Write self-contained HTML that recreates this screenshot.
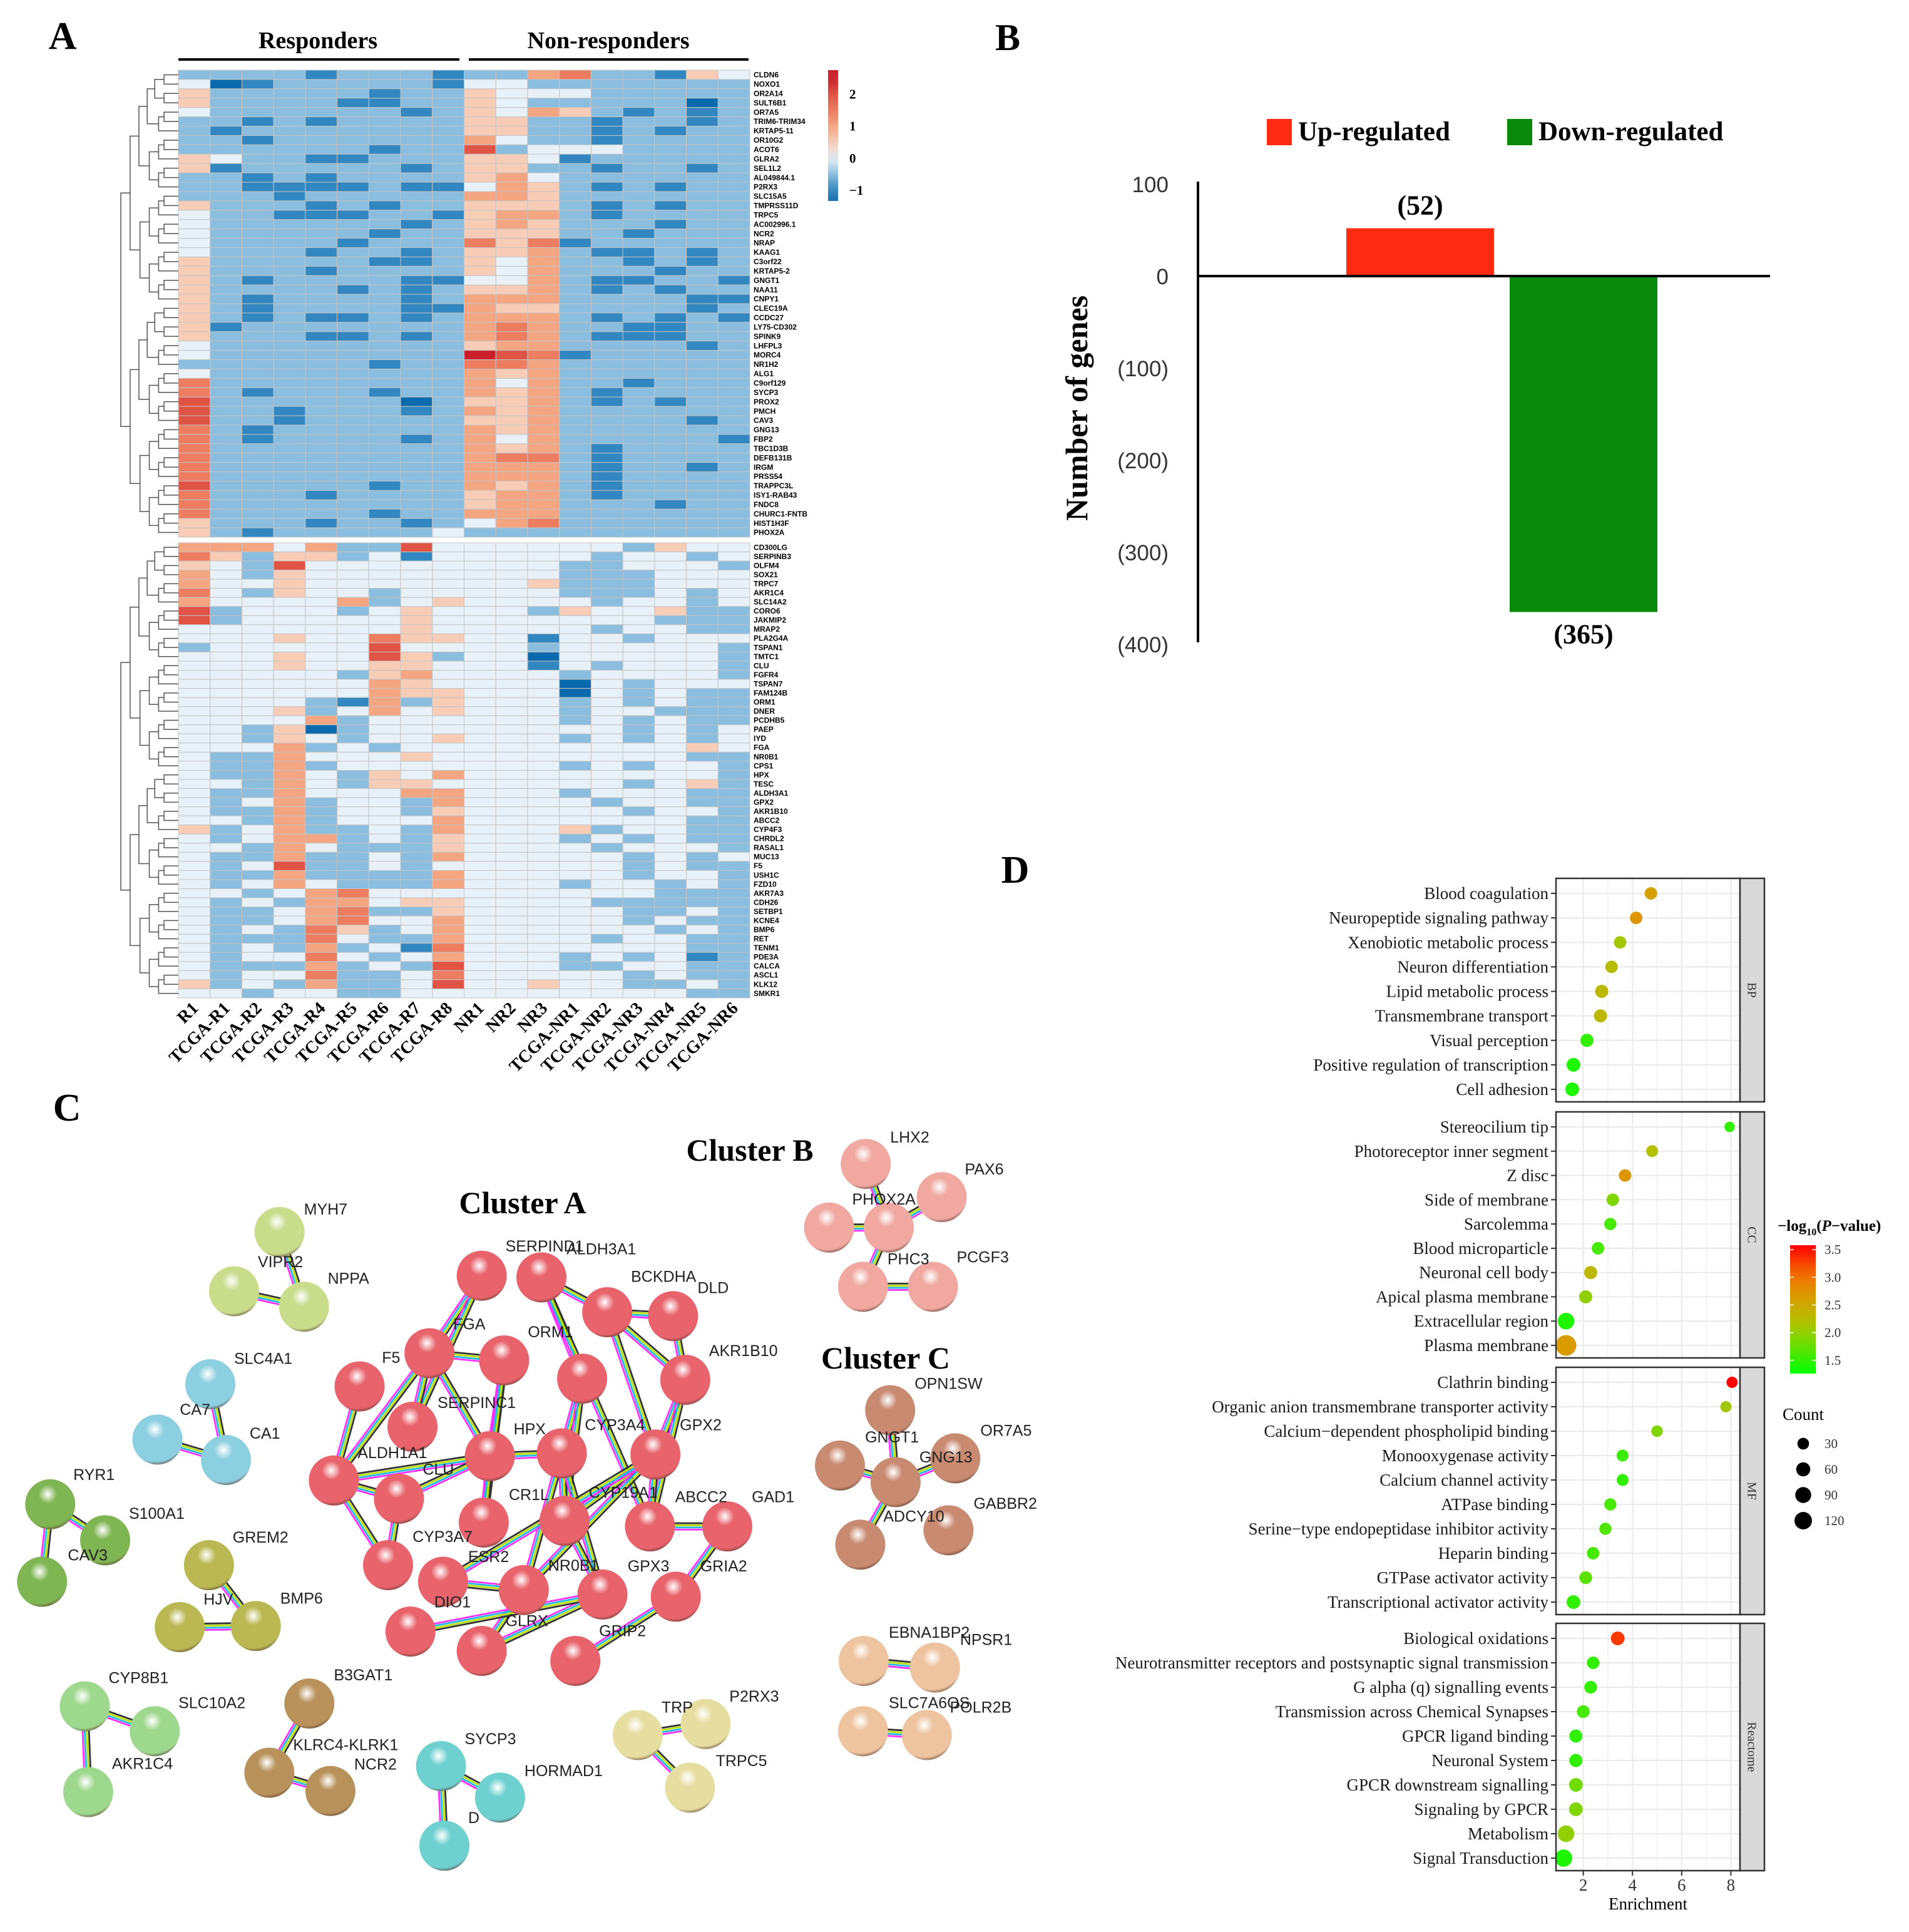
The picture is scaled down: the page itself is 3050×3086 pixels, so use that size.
<!DOCTYPE html>
<html><head><meta charset="utf-8"><style>
html,body{margin:0;padding:0;background:#fff;}
svg{display:block;}
</style></head><body>
<svg id="fig" width="3050" height="3086" viewBox="0 0 3050 3086" xmlns="http://www.w3.org/2000/svg">
<defs id="defs"></defs>
<g id="panelA"></g>
<g id="panelB"></g>
<g id="panelC"></g>
<g id="panelD"></g>
</svg>
<script>
// ================= DATA =================
// Heatmap
const hmColumns=["R1","TCGA-R1","TCGA-R2","TCGA-R3","TCGA-R4","TCGA-R5","TCGA-R6","TCGA-R7","TCGA-R8","NR1","NR2","NR3","TCGA-NR1","TCGA-NR2","TCGA-NR3","TCGA-NR4","TCGA-NR5","TCGA-NR6"];
const hmGenesTop=["CLDN6","NOXO1","OR2A14","SULT6B1","OR7A5","TRIM6-TRIM34","KRTAP5-11","OR10G2","ACOT6","GLRA2","SEL1L2","AL049844.1","P2RX3","SLC15A5","TMPRSS11D","TRPC5","AC002996.1","NCR2","NRAP","KAAG1","C3orf22","KRTAP5-2","GNGT1","NAA11","CNPY1","CLEC19A","CCDC27","LY75-CD302","SPINK9","LHFPL3","MORC4","NR1H2","ALG1","C9orf129","SYCP3","PROX2","PMCH","CAV3","GNG13","FBP2","TBC1D3B","DEFB131B","IRGM","PRSS54","TRAPPC3L","ISY1-RAB43","FNDC8","CHURC1-FNTB","HIST1H3F","PHOX2A"];
// level code per cell: value = -1.5 + 0.5*digit
const hmLevelsTop=["222212221225622143","301222221332222222","422222122433322222","422221122432222202","322222212435421212","221212222442212212","212222222442212122","221222222532212222","222222122723332222","432211222443122222","412222212442212212","221212222453222222","221111211354212122","222122222554222222","422212122444212122","322111221455212222","322222212454222122","322222122444221222","322221222646122222","322212212445211212","422222112435221212","422212222435222122","421222211335211221","422221212445212122","421222212555222211","421222211544222212","421211212555212121","412222222565221122","422211212565211122","322222222455222212","322222222876122222","222222122665222222","322222222545222222","622222222535221222","621222122545212222","722222202445212122","722122212545222222","722122222445222212","621222222545222222","621222212535222221","622222222545212222","622222222566212222","622222222555212212","622222222555212222","722222122545212222","622212222455212222","622222222455222122","622222122555222222","422212212356222222","421222223222222222"];
const hmGenesBottom=["CD300LG","SERPINB3","OLFM4","SOX21","TRPC7","AKR1C4","SLC14A2","CORO6","JAKMIP2","MRAP2","PLA2G4A","TSPAN1","TMTC1","CLU","FGFR4","TSPAN7","FAM124B","ORM1","DNER","PCDHB5","PAEP","IYD","FGA","NR0B1","CPS1","HPX","TESC","ALDH3A1","GPX2","AKR1B10","ABCC2","CYP4F3","CHRDL2","RASAL1","MUC13","F5","USH1C","FZD10","AKR7A3","CDH26","SETBP1","KCNE4","BMP6","RET","TENM1","PDE3A","CALCA","ASCL1","KLK12","SMKR1"];
const hmLevelsBottom=["555352273333332433","642442313333323323","432733333333223332","532433333333222333","533433333334222333","632433233333222323","533335234333323323","723332343332433422","723333343333333222","333333343333323322","333433644331332333","233333733332333332","333433742330333332","333433443331323332","333332453333233332","333333543333032333","333333544333032322","333321524333232322","333423534333233222","333352333333232322","332402333333332323","332432334333232323","333523233333333343","322533343333333322","322523333333232332","322532435333333332","332532443333332342","322533355333233322","323523325333323322","322523324333332332","332523335333333322","423522325333423322","323552324333232322","332532224333323332","322522325333332323","323722323333332322","322522225333332332","323532225333233232","332356333333333222","323255344333322222","322356224333332232","322356335333332322","323264235333333232","322263225333323322","323252316333333322","323363235333232312","322252327333223322","323362236333332322","423252237334332232","332332233333333322"];
const hmBarTicks=[2,1,0,-1];

// Bar chart
const barCategories=["Up-regulated","Down-regulated"];
const barValues=[52,-365];
const barLabels=["(52)","(365)"];
const barTickValues=[100,0,-100,-200,-300,-400];
const barTickLabels=["100","0","(100)","(200)","(300)","(400)"];

// Dot plot
const dotPanels=["BP","CC","MF","Reactome"];
const dotTermsBP=["Blood coagulation","Neuropeptide signaling pathway","Xenobiotic metabolic process","Neuron differentiation","Lipid metabolic process","Transmembrane transport","Visual perception","Positive regulation of transcription","Cell adhesion"];
const dotEnrichBP=[4.75,4.15,3.5,3.15,2.75,2.7,2.15,1.6,1.55];
const dotPvalBP=[2.6,2.7,2.1,2.25,2.3,2.3,1.5,1.4,1.4];
const dotCountBP=[20,20,20,20,25,25,25,30,30];
const dotTermsCC=["Stereocilium tip","Photoreceptor inner segment","Z disc","Side of membrane","Sarcolemma","Blood microparticle","Neuronal cell body","Apical plasma membrane","Extracellular region","Plasma membrane"];
const dotEnrichCC=[7.95,4.8,3.7,3.2,3.1,2.6,2.3,2.1,1.3,1.3];
const dotPvalCC=[1.5,2.2,2.7,1.9,1.6,1.6,2.3,2.0,1.4,2.65];
const dotCountCC=[8,16,20,20,18,20,25,25,60,120];
const dotTermsMF=["Clathrin binding","Organic anion transmembrane transporter activity","Calcium\u2212dependent phospholipid binding","Monooxygenase activity","Calcium channel activity","ATPase binding","Serine\u2212type endopeptidase inhibitor activity","Heparin binding","GTPase activator activity","Transcriptional activator activity"];
const dotEnrichMF=[8.05,7.8,5.0,3.6,3.6,3.1,2.9,2.4,2.1,1.6];
const dotPvalMF=[3.6,2.1,1.9,1.55,1.5,1.6,1.65,1.6,1.7,1.5];
const dotCountMF=[12,12,14,16,16,18,18,20,22,30];
const dotTermsRe=["Biological oxidations","Neurotransmitter receptors and postsynaptic signal transmission","G alpha (q) signalling events","Transmission across Chemical Synapses","GPCR ligand binding","Neuronal System","GPCR downstream signalling","Signaling by GPCR","Metabolism","Signal Transduction"];
const dotEnrichRe=[3.4,2.4,2.3,2.0,1.7,1.7,1.7,1.7,1.3,1.2];
const dotPvalRe=[3.3,1.5,1.5,1.6,1.5,1.5,1.8,1.9,2.0,1.4];
const dotCountRe=[30,20,22,22,25,25,30,30,60,70];
const dotXTicks=[2,4,6,8];
const dotPTicks=[3.5,3.0,2.5,2.0,1.5];
const dotCountTicks=[30,60,90,120];

// ================= HELPERS =================
const NS="http://www.w3.org/2000/svg";
function mk(parent,tag,attrs,text){const e=document.createElementNS(NS,tag);for(const k in attrs)e.setAttribute(k,attrs[k]);if(text!==undefined)e.textContent=text;parent.appendChild(e);return e;}
function hex(c){return [parseInt(c.slice(1,3),16),parseInt(c.slice(3,5),16),parseInt(c.slice(5,7),16)];}
function interp(stops,v){if(v<=stops[0][0])return stops[0][1];for(let i=1;i<stops.length;i++){if(v<=stops[i][0]){const t=(v-stops[i-1][0])/(stops[i][0]-stops[i-1][0]);const a=hex(stops[i-1][1]),b=hex(stops[i][1]);return "rgb("+a.map((x,j)=>Math.round(x+(b[j]-x)*t)).join(",")+")";}}return stops[stops.length-1][1];}
const SERIF='"Liberation Serif", serif';
const SANS='"Liberation Sans", sans-serif';
const defs=document.getElementById('defs');

// ================= PANEL A =================
(function(){
const g=document.getElementById('panelA');
const hmStops=[[-1.5,'#0a6aad'],[-1,'#3287c0'],[-0.5,'#8bbede'],[0,'#e8f1f7'],[0.5,'#f8cdb8'],[1,'#f4a582'],[1.5,'#ec7d61'],[2,'#e05446'],[2.5,'#c9202c']];
const L=285,R=1198,cw=(R-L)/hmColumns.length;
const t=mk(g,'text',{x:100,y:78,'font-family':SERIF,'font-weight':'bold','font-size':62,'text-anchor':'middle'},'A');

const hdr=[["Responders",508,285,734],["Non-responders",972,749,1196]];
hdr.forEach(h=>{const tt=mk(g,'text',{x:h[1],y:77,'font-family':SERIF,'font-weight':'bold','font-size':38,'text-anchor':'middle'},h[0]);

const ln=mk(g,'line',{x1:h[2],x2:h[3],y1:95,y2:95,stroke:'#000','stroke-width':4});
});
function block(genes,levels,top,bot,name){
  const rh=(bot-top)/genes.length;
  const bg=mk(g,'g',{});
  levels.forEach((row,i)=>{for(let j=0;j<hmColumns.length;j++){const v=-1.5+0.5*parseInt(row[j]);
    const r=mk(bg,'rect',{x:L+j*cw,y:top+i*rh,width:cw,height:rh,fill:interp(hmStops,v),stroke:'#c4c4c4','stroke-width':1});
    }
    const gl=mk(bg,'text',{x:1204,y:top+i*rh+rh*0.78,'font-family':SANS,'font-weight':'bold','font-size':12},genes[i]);
    });
  const dg=mk(g,'g',{stroke:'#555','stroke-width':1.5,fill:'none'});
  const n=genes.length;
  function node(a,b){
    if(a===b)return [L,top+(a+0.5)*rh];
    const m=Math.floor((a+b)/2);const c1=node(a,m),c2=node(m+1,b);
    const x=L-8-84*Math.log2(b-a+1)/Math.log2(n);
    mk(dg,'path',{d:`M${c1[0]},${c1[1]}H${x}V${c2[1]}H${c2[0]}`});
    return [x,(c1[1]+c2[1])/2];}
  node(0,n-1);
}
block(hmGenesTop,hmLevelsTop,112,858,'heatmap-upper-block');
block(hmGenesBottom,hmLevelsBottom,867,1594,'heatmap-lower-block');
hmColumns.forEach((c,j)=>{const x=L+(j+0.5)*cw+8,y=1612;
  const tt=mk(g,'text',{x:x,y:y,'font-family':SERIF,'font-weight':'bold','font-size':28,'text-anchor':'end',transform:`rotate(-45 ${x} ${y})`},c);
  });
const gr=mk(defs,'linearGradient',{id:'hmgrad',x1:0,y1:1,x2:0,y2:0});
const vTop=2.75,vBot=-1.33;
for(let k=0;k<=10;k++){const v=vBot+(vTop-vBot)*k/10;mk(gr,'stop',{offset:k/10,'stop-color':interp(hmStops,v)});}
const cb=mk(g,'rect',{x:1323,y:112,width:16,height:209,fill:'url(#hmgrad)'});

hmBarTicks.forEach(v=>{const y=112+(vTop-v)/(vTop-vBot)*209;
  const tt=mk(g,'text',{x:1357,y:y+7,'font-family':SERIF,'font-weight':'bold','font-size':21},v<0?'\u22121':String(v));
  });
})();

// ================= PANEL B =================
(function(){
const g=document.getElementById('panelB');
const y0=441,k=1.47;const yS=v=>y0-v*k;
const t=mk(g,'text',{x:1610,y:80,'font-family':SERIF,'font-weight':'bold','font-size':60,'text-anchor':'middle'},'B');

const cols=['#ff2a12','#0a8a0a'];
const legX=[2024,2408];
barCategories.forEach((c,i)=>{
  const r=mk(g,'rect',{x:legX[i],y:190,width:40,height:42,fill:cols[i]});
  const tt=mk(g,'text',{x:legX[i]+50,y:224,'font-family':SERIF,'font-weight':'bold','font-size':43},c);});
const ax=mk(g,'line',{x1:1914,x2:1914,y1:290,y2:1026,stroke:'#000','stroke-width':4});
barTickValues.forEach((v,i)=>{const tt=mk(g,'text',{x:1867,y:yS(v)+13,'font-family':SANS,'font-size':35,'text-anchor':'end',fill:'#333'},barTickLabels[i]);});
const yt=mk(g,'text',{x:0,y:0,'font-family':SERIF,'font-weight':'bold','font-size':50,'text-anchor':'middle',transform:'translate(1737,652) rotate(-90)'},'Number of genes');
const bx=[2151,2412],bw=236;
barValues.forEach((v,i)=>{const top=Math.min(yS(v),y0),h=Math.abs(yS(v)-y0);
  const r=mk(g,'rect',{x:bx[i],y:top,width:bw,height:h,fill:cols[i]});
  const ly=v>0?yS(v)-22:yS(v)+50;
  const tt=mk(g,'text',{x:bx[i]+bw/2,y:ly,'font-family':SERIF,'font-weight':'bold','font-size':44,'text-anchor':'middle'},barLabels[i]);});
const zl=mk(g,'line',{x1:1914,x2:2828,y1:y0,y2:y0,stroke:'#000','stroke-width':4});
})();

// ================= PANEL C =================
(function(){
const g=document.getElementById('panelC');
const Z=(x,y)=>[x*1.084,1700+y*0.884];
const t=mk(g,'text',{x:107,y:1790,'font-family':SERIF,'font-weight':'bold','font-size':62,'text-anchor':'middle'},'C');

[["Cluster A",835,1938],["Cluster B",1198,1854],["Cluster C",1415,2186]].forEach(c=>{const tt=mk(g,'text',{x:c[1],y:c[2],'font-family':SERIF,'font-weight':'bold','font-size':50,'text-anchor':'middle'},c[0]);});
const groups=[
 {c:'#e8636b',n:[[710,382,'SERPIND1',745,327],[798,385,'ALDH3A1',835,332],[895,448,'BCKDHA',930,382],[992,455,'DLD',1028,402],[633,522,'FGA',668,468],[743,535,'',0,0],[530,582,'F5',563,528],[858,568,'ORM1',778,482],[1010,570,'AKR1B10',1045,516],[608,655,'SERPINC1',645,610],[722,708,'HPX',757,657],[828,703,'CYP3A4',862,650],[966,705,'GPX2',1002,650],[492,752,'ALDH1A1',527,700],[588,785,'CLU',623,730],[713,828,'CR1L',750,776],[832,825,'CYP19A1',868,772],[958,835,'ABCC2',995,780],[1072,835,'GAD1',1108,780],[572,905,'CYP3A7',608,852],[653,935,'ESR2',690,888],[772,950,'NR0B1',808,904],[888,958,'GPX3',925,905],[996,962,'GRIA2',1032,905],[605,1025,'DIO1',640,970],[710,1060,'GLRX',745,1004],[848,1078,'GRIP2',883,1022]],
  e:[[0,4],[0,9],[1,7],[1,2],[1,17],[2,3],[2,8],[3,8],[4,5],[4,13],[4,9],[4,10],[5,10],[5,15],[6,13],[7,11],[7,16],[8,12],[8,17],[13,14],[13,10],[14,10],[14,19],[13,19],[10,11],[11,16],[11,21],[11,22],[12,16],[12,17],[12,21],[17,18],[16,22],[18,23],[21,20],[21,25],[22,25],[23,26],[22,24],[20,12],[10,15],[2,12]]},
 {c:'#c8dc8c',n:[[412,303,'MYH7',448,260],[345,410,'VIPR2',380,355],[448,438,'NPPA',483,385]],e:[[0,2],[1,2]]},
 {c:'#8ccfe0',n:[[310,578,'SLC4A1',345,530],[232,678,'CA7',265,622],[333,715,'CA1',368,665]],e:[[0,2],[1,2]]},
 {c:'#7fb552',n:[[74,795,'RYR1',108,740],[155,860,'S100A1',190,810],[62,935,'CAV3',100,885]],e:[[0,1],[0,2]]},
 {c:'#b9b852',n:[[308,905,'GREM2',343,853],[265,1017,'HJV',300,965],[377,1015,'BMP6',413,963]],e:[[0,2],[1,2]]},
 {c:'#9ed88e',n:[[125,1160,'CYP8B1',160,1107],[228,1205,'SLC10A2',263,1152],[130,1315,'AKR1C4',165,1262]],e:[[0,1],[0,2]]},
 {c:'#b8925a',n:[[456,1155,'B3GAT1',492,1102],[397,1280,'KLRC4-KLRK1',432,1228],[487,1313,'NCR2',522,1263]],e:[[0,1],[1,2]]},
 {c:'#6fd0d0',n:[[650,1268,'SYCP3',685,1217],[737,1325,'HORMAD1',773,1275],[655,1412,'D',690,1360]],e:[[0,1],[0,2]]},
 {c:'#e6dea0',n:[[1040,1192,'P2RX3',1075,1140],[940,1212,'TRP',975,1160],[1017,1307,'TRPC5',1055,1257]],e:[[1,0],[1,2]]},
 {c:'#f0a8a0',n:[[1276,180,'LHX2',1312,130],[1388,240,'PAX6',1422,188],[1222,295,'',0,0],[1310,295,'PHOX2A',1256,242],[1272,402,'PHC3',1308,350],[1375,402,'PCGF3',1410,347]],e:[[0,3],[3,1],[2,3],[3,4],[4,5]]},
 {c:'#c88a70',n:[[1312,625,'OPN1SW',1348,575],[1408,712,'OR7A5',1445,660],[1238,725,'GNGT1',1275,672],[1320,755,'GNG13',1355,708],[1398,842,'GABBR2',1435,792],[1268,868,'ADCY10',1302,815]],e:[[0,3],[2,3],[3,1],[3,5]]},
 {c:'#eec4a0',n:[[1273,1078,'EBNA1BP2',1310,1025],[1378,1090,'NPSR1',1415,1038],[1272,1205,'SLC7A6OS',1310,1152],[1366,1212,'POLR2B',1400,1160]],e:[[0,1],[2,3]]}
];
const eg=mk(g,'g',{});
const ng=mk(g,'g',{});
const lg=mk(g,'g',{});
const ecols=['#333','#b8e000','#20b8e0','#ff30ff'];
groups.forEach((gr,gi)=>{
  const grad=mk(defs,'radialGradient',{id:'ng'+gi,cx:0.45,cy:0.3,r:0.75});
  mk(grad,'stop',{offset:0,'stop-color':'#ffffff'});mk(grad,'stop',{offset:0.25,'stop-color':gr.c});mk(grad,'stop',{offset:0.85,'stop-color':gr.c});mk(grad,'stop',{offset:1,'stop-color':'#5a3a30'});
  gr.e.forEach(ed=>{const a=Z(gr.n[ed[0]][0],gr.n[ed[0]][1]),b=Z(gr.n[ed[1]][0],gr.n[ed[1]][1]);
    const dx=b[0]-a[0],dy=b[1]-a[1],L=Math.hypot(dx,dy),px=-dy/L,py=dx/L;
    ecols.forEach((c,k)=>{const o=(k-1.5)*3.4;const l=mk(eg,'line',{x1:a[0]+px*o,y1:a[1]+py*o,x2:b[0]+px*o,y2:b[1]+py*o,stroke:c,'stroke-width':2.8});
      });});
  gr.n.forEach(nd=>{const p=Z(nd[0],nd[1]);
    const c=mk(ng,'circle',{cx:p[0],cy:p[1],r:40,fill:'url(#ng'+gi+')'});
    
    if(nd[2]){const q=Z(nd[3],nd[4]);const tt=mk(lg,'text',{x:q[0],y:q[1]+10,'font-family':SANS,'font-size':25,fill:'#222'},nd[2]);
      }});
});
})();

// ================= PANEL D =================
(function(){
const g=document.getElementById('panelD');
const t=mk(g,'text',{x:1622,y:1410,'font-family':SERIF,'font-weight':'bold','font-size':62,'text-anchor':'middle'},'D');

const pStops=[[1.26,'#00ff00'],[1.8,'#70dc00'],[2.2,'#b4c000'],[2.6,'#d6a000'],[3.0,'#f07800'],[3.58,'#ff0000']];
const X0=2451,XU=39.3,xS=v=>X0+v*XU;
const PL=2486,PR=2780,SR=2819;
const rS=c=>5.5+Math.sqrt(c);
const boxes=[[1403,1760],[1776,2169],[2184,2579],[2593,2988]];
const terms=[dotTermsBP,dotTermsCC,dotTermsMF,dotTermsRe],enr=[dotEnrichBP,dotEnrichCC,dotEnrichMF,dotEnrichRe],pv=[dotPvalBP,dotPvalCC,dotPvalMF,dotPvalRe],cnt=[dotCountBP,dotCountCC,dotCountMF,dotCountRe];
boxes.forEach((b,pi)=>{
  const pg=mk(g,'g',{});
  const n=terms[pi].length;const rowY=i=>b[0]+24+i*((b[1]-b[0]-44)/(n-1));
  for(let v=1;v<=8;v++){if(xS(v)>PL)mk(pg,'line',{x1:xS(v),x2:xS(v),y1:b[0],y2:b[1],stroke:'#ebebeb','stroke-width':v%2?1.2:2.2});}
  terms[pi].forEach((tm,i)=>{const y=rowY(i);
    mk(pg,'line',{x1:PL,x2:PR,y1:y,y2:y,stroke:'#ebebeb','stroke-width':2.2});
    mk(pg,'line',{x1:PL-8,x2:PL,y1:y,y2:y,stroke:'#333','stroke-width':2});
    const tt=mk(pg,'text',{x:2474,y:y+9,'font-family':SERIF,'font-size':27,'text-anchor':'end',fill:'#1a1a1a'},tm);
    });
  terms[pi].forEach((tm,i)=>{const c=mk(pg,'circle',{cx:xS(enr[pi][i]),cy:rowY(i),r:rS(cnt[pi][i]),fill:interp(pStops,pv[pi][i])});
    });
  mk(pg,'rect',{x:PL,y:b[0],width:PR-PL,height:b[1]-b[0],fill:'none',stroke:'#333','stroke-width':2.5});
  const st=mk(pg,'rect',{x:PR,y:b[0],width:SR-PR,height:b[1]-b[0],fill:'#d9d9d9',stroke:'#333','stroke-width':2.5});
  
  const cy=(b[0]+b[1])/2;
  const sl=mk(pg,'text',{x:0,y:0,'font-family':SERIF,'font-size':20,'text-anchor':'middle',fill:'#333',transform:`translate(${(PR+SR)/2-7},${cy}) rotate(90)`},dotPanels[pi]);
  
});
dotXTicks.forEach(v=>{mk(g,'line',{x1:xS(v),x2:xS(v),y1:2988,y2:2996,stroke:'#333','stroke-width':2});
  const tt=mk(g,'text',{x:xS(v),y:3020,'font-family':SERIF,'font-size':27,'text-anchor':'middle',fill:'#333'},String(v));});
const xt=mk(g,'text',{x:2633,y:3050,'font-family':SERIF,'font-size':27,'text-anchor':'middle'},'Enrichment');
const lt=mk(g,'text',{x:2840,y:1966,'font-family':SERIF,'font-weight':'bold','font-size':25},'');

mk(lt,'tspan',{},'\u2212log');mk(lt,'tspan',{dy:7,'font-size':16},'10');mk(lt,'tspan',{dy:-7},'(');mk(lt,'tspan',{'font-style':'italic'},'P');mk(lt,'tspan',{},'\u2212value)');
const pTop=3.58,pBot=1.26,cbT=1989,cbB=2194;
const gr=mk(defs,'linearGradient',{id:'pgrad',x1:0,y1:1,x2:0,y2:0});
for(let k=0;k<=10;k++){mk(gr,'stop',{offset:k/10,'stop-color':interp(pStops,pBot+(pTop-pBot)*k/10)});}
const cb=mk(g,'rect',{x:2860,y:cbT,width:41,height:cbB-cbT,fill:'url(#pgrad)'});
dotPTicks.forEach(v=>{const y=cbT+(pTop-v)/(pTop-pBot)*(cbB-cbT);
  mk(g,'line',{x1:2860,x2:2866,y1:y,y2:y,stroke:'#fff','stroke-width':1.5});mk(g,'line',{x1:2895,x2:2901,y1:y,y2:y,stroke:'#fff','stroke-width':1.5});
  const tt=mk(g,'text',{x:2915,y:y+7,'font-family':SERIF,'font-size':21,fill:'#333'},v.toFixed(1));});
const ct=mk(g,'text',{x:2848,y:2268,'font-family':SERIF,'font-size':27},'Count');
dotCountTicks.forEach((c,i)=>{const y=2306+i*41;
  const d=mk(g,'circle',{cx:2881,cy:y,r:rS(c)*0.85,fill:'#000'});
  const tt=mk(g,'text',{x:2915,y:y+7,'font-family':SERIF,'font-size':21,fill:'#333'},String(c));});
})();
</script>
</body></html>
